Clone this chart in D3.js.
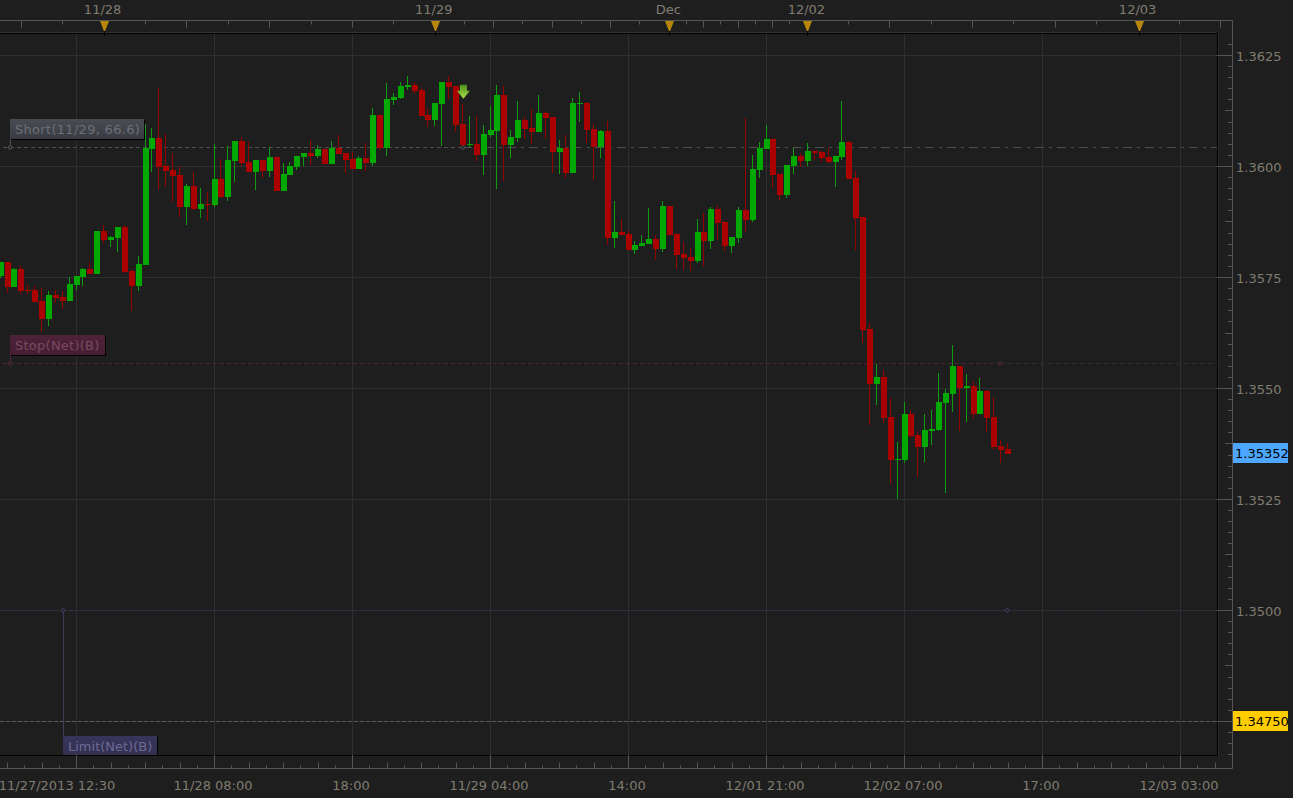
<!DOCTYPE html>
<html><head><meta charset="utf-8">
<script src="https://cdnjs.cloudflare.com/ajax/libs/d3/7.8.5/d3.min.js"></script>
<style>html,body{margin:0;padding:0;background:#1e1e1e;overflow:hidden}svg{display:block}text{font-family:"DejaVu Sans",sans-serif}</style>
</head><body><svg id="c" width="1293" height="798"></svg>
<script>
// Prices are stored in 1e-5 units (135352 = 1.35352)
const opens=[135753,135785,135729,135769,135722,135722,135697,135656,135711,135706,135697,135733,135751,135769,135758,135855,135834,135839,135864,135765,135731,135778,136039,136064,136001,135992,135981,135909,135956,135904,135916,135913,135972,135931,136012,136057,136010,135988,136015,135990,136021,135945,135981,135999,136021,136030,136024,136039,136006,136042,136030,136017,135994,136019,136008,136116,136042,136150,136154,136179,136184,136172,136116,136105,136141,136190,136181,136096,136048,136051,136026,136071,136080,136161,136048,136064,136105,136087,136078,136121,136111,136033,136042,135985,136141,136143,136084,136044,136080,135839,135852,135848,135812,135821,135825,135837,135814,135911,135848,135803,135796,135787,135852,135832,135904,135875,135821,135839,135902,135880,135992,136039,136062,135983,135936,136001,136024,136012,136035,136033,136021,136010,136021,136055,135974,135886,135634,135510,135526,135436,135339,135339,135443,135395,135368,135404,135407,135467,135488,135551,135501,135506,135443,135494,135436,135370,135364];
const highs=[135785,135785,135771,135776,135733,135731,135726,135720,135722,135720,135751,135753,135771,135783,135855,135868,135843,135864,135868,135769,135798,136096,136087,136177,136073,136030,136001,135961,135988,135952,135943,136051,136017,136046,136057,136066,136055,136015,136015,136044,136024,136008,136010,136024,136030,136060,136048,136042,136057,136071,136030,136033,136024,136053,136132,136116,136188,136166,136190,136204,136190,136177,136132,136143,136190,136204,136181,136141,136114,136114,136093,136136,136184,136181,136082,136148,136111,136130,136161,136123,136111,136060,136071,136154,136168,136145,136096,136082,136102,135922,135882,135855,135832,135846,135907,135846,135922,135911,135850,135830,135816,135882,135895,135909,135913,135877,135841,135909,136109,136026,136055,136093,136062,135983,136003,136042,136030,136053,136035,136035,136042,136024,136148,136057,135990,135886,135648,135555,135542,135479,135380,135470,135452,135404,135443,135452,135535,135499,135598,135551,135533,135517,135524,135497,135481,135384,135377];
const lows=[135749,135715,135729,135713,135713,135695,135627,135641,135693,135679,135697,135722,135731,135758,135758,135828,135819,135807,135760,135675,135720,135778,135988,135947,135954,135920,135886,135868,135902,135884,135877,135909,135929,135922,135965,136001,135988,135947,135974,135976,135945,135945,135981,135992,136001,136003,136019,136006,136006,136028,135985,135994,135994,135990,136001,136037,136024,136139,136152,136172,136163,136114,136089,136091,136046,136152,136078,136046,136044,136012,135981,136066,135949,135967,136019,136055,136062,136051,136078,136064,135985,135983,135974,135985,136100,136053,135970,136019,135823,135816,135846,135812,135803,135821,135825,135789,135807,135846,135769,135767,135765,135783,135776,135814,135834,135810,135805,135828,135852,135875,135974,136039,135952,135925,135929,135983,135999,136001,136015,136010,136008,135954,136015,135972,135812,135602,135418,135463,135422,135285,135251,135332,135388,135301,135334,135373,135404,135265,135447,135404,135425,135431,135443,135402,135361,135332,135352];
const closes=[135785,135729,135769,135720,135720,135695,135656,135711,135704,135697,135735,135753,135769,135758,135855,135834,135841,135864,135762,135731,135780,136042,136064,135999,135990,135979,135909,135956,135904,135916,135913,135972,135931,136015,136057,136008,135988,136015,135990,136021,135945,135983,136001,136024,136030,136024,136039,136006,136042,136028,136015,135994,136019,136008,136116,136042,136152,136157,136181,136184,136170,136114,136105,136143,136190,136179,136093,136048,136051,136026,136073,136082,136161,136048,136066,136105,136084,136078,136121,136109,136033,136042,135985,136143,136143,136082,136044,136080,135839,135852,135846,135812,135823,135828,135837,135814,135911,135846,135801,135794,135787,135852,135832,135904,135873,135821,135841,135902,135880,135994,136042,136062,135981,135936,136003,136024,136012,136035,136030,136019,136010,136024,136055,135972,135884,135632,135510,135526,135434,135339,135341,135443,135393,135368,135407,135409,135470,135490,135551,135501,135506,135443,135494,135434,135368,135361,135352];

const priceTicks=[1.3625,1.36,1.3575,1.355,1.3525,1.35,1.3475];
const priceLabels=["1.3625","1.3600","1.3575","1.3550","1.3525","1.3500"];
const timeLabels=["11/27/2013 12:30","11/28 08:00","18:00","11/29 04:00","14:00","12/01 21:00","12/02 07:00","17:00","12/03 03:00"];
const dayLabels=["11/28","11/29","Dec","12/02","12/03"];
const dayBars=[15,63,97,117,165];
const topMinorSlots=[-2,10,22,34,46,56.2,64.7,73.2,81.6,88.4,93.3,98.4,103.3,111.9,123.9,135.8,147.8,159.9];
const topMediumSlots=[-8,16,28,40,60.4,69,77.4,90.9,95.9,100.9,117.8,129.9,141.9,165.8];
const shortPrice=1.36043, stopPrice=1.35557, limitPrice=1.35, currentPrice=1.35352, targetPrice=1.3475;
const arrowBar=67, arrowPrice=1.36184;

const bg=d3.select("#c");
const pR=1217,pT=33,pB=755,axR=1232,axT=20.5,axB=768.5;
const y=d3.scaleLinear().domain([1.3625,1.3475]).range([55.5,721.5]);
const x=d3.scaleLinear().domain([0,20]).range([76,214]);     // 30-minute slots, slot 0 = first grid line
const bar=i=>x(i-11);                                          // candle index to slot
const gy=v=>Math.floor(y(v))+.5;

const grid=bg.append("g");
const gridSlots=timeLabels.map((d,k)=>k*20);
grid.selectAll(".h").data(priceTicks).join("line").attr("x1",0).attr("x2",pR).attr("y1",gy).attr("y2",gy).attr("stroke","#2f2f2f");
grid.selectAll(".v").data(gridSlots).join("line").attr("x1",d=>Math.round(x(d))+.5).attr("x2",d=>Math.round(x(d))+.5).attr("y1",pT).attr("y2",pB).attr("stroke","#2f2f2f");

// frame
bg.append("path").attr("d",`M0 32.5H${pR-1.5}V33`).attr("stroke","#333").attr("fill","none");
bg.append("path").attr("d",`M0 33.5H${pR+.5}V${pB+.5}H0`).attr("stroke","#000").attr("fill","none");
bg.append("line").attr("x1",pR+1.5).attr("x2",pR+1.5).attr("y1",33).attr("y2",pB+1).attr("stroke","#2c2c2c");

// order lines
const ln=(p,col,dash,x1,x2)=>bg.append("line").attr("x1",x1).attr("x2",x2).attr("y1",gy(p)).attr("y2",gy(p)).attr("stroke",col).attr("stroke-dasharray",dash);
ln(shortPrice,"#4e4e4e","4 3",3,463);
ln(shortPrice,"#4e4e4e","9 5 3 5",463,pR);
ln(stopPrice,"#4d2335","4 3",3,1000);
ln(stopPrice,"#3a2530","5 3",1000,pR);
ln(limitPrice,"#34314f","6 4",0,1007);
ln(limitPrice,"#2e2c40","6 4",1007,pR);
ln(targetPrice,"#5a5a5a","4 2",0,axR);
bg.append("line").attr("x1",63.5).attr("x2",63.5).attr("y1",y(limitPrice)).attr("y2",737).attr("stroke","#3e3b5c");
bg.append("line").attr("x1",10.5).attr("x2",10.5).attr("y1",139).attr("y2",gy(shortPrice)).attr("stroke","#4e4e4e");
bg.append("line").attr("x1",10.5).attr("x2",10.5).attr("y1",355).attr("y2",gy(stopPrice)).attr("stroke","#4d2335");

const ring=(cx,p,c)=>bg.append("circle").attr("cx",cx).attr("cy",gy(p)).attr("r",1.7).attr("fill","#1e1e1e").attr("stroke",c);
ring(10,shortPrice,"#5c5c5c");ring(10,stopPrice,"#5c2a3e");ring(63,limitPrice,"#45426a");ring(1000,stopPrice,"#5c2a3e");ring(1007,limitPrice,"#45426a");ring(463,shortPrice,"#555");

// candles
const idx=d3.range(opens.length);
const cG=bg.append("g");
const col=i=>closes[i]>=opens[i]?"#00a800":"#aa0000";
const wick=i=>closes[i]>=opens[i]?"#0f9c0f":"#960000";
const px=v=>Math.round(y(v/1e5));
const cx=i=>Math.floor(bar(i));
cG.selectAll("line").data(idx).join("line")
 .attr("x1",i=>cx(i)+.5).attr("x2",i=>cx(i)+.5)
 .attr("y1",i=>px(highs[i])).attr("y2",i=>px(lows[i])).attr("stroke",wick);
cG.selectAll("rect").data(idx).join("rect")
 .attr("x",i=>cx(i)-2).attr("width",6)
 .attr("y",i=>px(Math.max(opens[i],closes[i])))
 .attr("height",i=>Math.max(1,px(Math.min(opens[i],closes[i]))-px(Math.max(opens[i],closes[i]))))
 .attr("fill",col);

// arrow
const defs=bg.append("defs");
const ag=defs.append("linearGradient").attr("id","ag").attr("x1",0).attr("x2",0).attr("y1",0).attr("y2",1);
ag.append("stop").attr("offset","0").attr("stop-color","#4f8f18");ag.append("stop").attr("offset","1").attr("stop-color","#a9e24a");
bg.append("path").attr("transform",`translate(${bar(arrowBar)+1},${y(arrowPrice)})`).attr("d","M-3.5 0H3.5V6H6.5L0 14L-6.5 6H-3.5Z").attr("fill","url(#ag)");

// flags
function flag(x0,y0,w,h,top,bot,txt,tc,id,ls){
 const g=defs.append("linearGradient").attr("id",id).attr("x1",0).attr("x2",0).attr("y1",0).attr("y2",1);
 g.append("stop").attr("offset","0").attr("stop-color",top);g.append("stop").attr("offset","1").attr("stop-color",bot);
 bg.append("rect").attr("x",x0+1).attr("y",y0+1).attr("width",w).attr("height",h).attr("fill","#000");
 bg.append("rect").attr("x",x0).attr("y",y0).attr("width",w).attr("height",h).attr("fill",`url(#${id})`);
 bg.append("text").attr("x",x0+5).attr("y",y0+15).attr("font-size",13).attr("letter-spacing",ls).attr("fill",tc).text(txt);
}
flag(10,119,134,20,"#494c53","#393b42","Short(11/29, 66.6)","#6c6f78","f1",.3);
flag(10,335,95,20,"#4e2238","#451d31","Stop(Net)(B)","#7a4a60","f2",.25);
flag(63,736,94,19,"#38355c","#32304f","Limit(Net)(B)","#6d6a96","f3",0);

// bottom axis
const axisCol="#555";
bg.append("path").attr("d",`M0 ${axB}H${axR+.5}M${axR+.5} ${axT}V${axB}M0 ${axT}H${axR+.5}`).attr("stroke",axisCol).attr("fill","none");
const bTicks=d3.range(-4,67);
bg.selectAll(".bt").data(bTicks).join("line").attr("x1",k=>Math.round(x(k*2.5))+.5).attr("x2",k=>Math.round(x(k*2.5))+.5)
 .attr("y2",axB).attr("y1",k=>k%8===0?pB:(k%2===0?axB-6:axB-3)).attr("stroke",axisCol);
bg.selectAll(".bl").data(timeLabels).join("text").attr("x",(d,k)=>x(k*20)+(k===0?-19:-1)).attr("y",790).attr("text-anchor","middle")
 .attr("font-size",13).attr("fill","#807c70").text(d=>d);

// right axis
const rTicks=d3.range(-1,64);
const rTickY=k=>Math.floor(y(1.3625-k*0.00025))+.5;
bg.selectAll(".rt").data(rTicks).join("line").attr("y1",rTickY).attr("y2",rTickY)
 .attr("x2",axR).attr("x1",k=>k%10===0?pR:(k%5===0?axR-7:axR-4)).attr("stroke",axisCol);
bg.selectAll(".rl").data(priceLabels).join("text").attr("x",1236).attr("y",(d,k)=>y(priceTicks[k])+5.5)
 .attr("font-size",13).attr("fill","#807c70").text(d=>d);

// top axis
const tick=(slots,len)=>bg.append("g").selectAll("line").data(slots).join("line").attr("x1",s=>Math.round(x(s))+.5).attr("x2",s=>Math.round(x(s))+.5).attr("y1",axT).attr("y2",axT+len).attr("stroke",axisCol);
tick(topMinorSlots,4);tick(topMediumSlots,7);
bg.selectAll(".tl").data(dayLabels).join("text").attr("x",(d,k)=>bar(dayBars[k])-1).attr("y",14).attr("text-anchor","middle")
 .attr("font-size",13).attr("fill","#807c70").text(d=>d);
bg.selectAll(".st").data(dayBars).join("line").attr("x1",d=>Math.round(bar(d))+.5).attr("x2",d=>Math.round(bar(d))+.5).attr("y1",30).attr("y2",36).attr("stroke","#000");
bg.selectAll(".tri").data(dayBars).join("path").attr("transform",d=>`translate(${Math.round(bar(d))+.5},21)`)
 .attr("d","M-4.5 0H4.5L.6 10H-.6Z").attr("fill","#b8860b");

// tags
function tag(p,c,label){const yy=Math.round(y(p));
 bg.append("rect").attr("x",1233).attr("y",yy-11).attr("width",55).attr("height",20).attr("fill",c);
 bg.append("text").attr("x",1235).attr("y",yy+4).attr("font-size",13).attr("fill","#000").text(label);}
tag(currentPrice,"#4da6ff","1.35352");
tag(targetPrice,"#ffcc00","1.34750");
</script></body></html>
